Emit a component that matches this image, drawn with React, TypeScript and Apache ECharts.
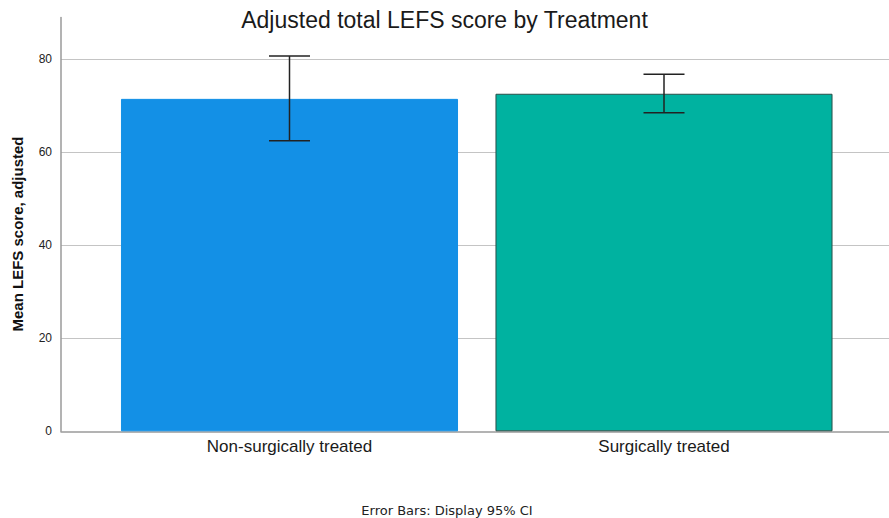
import React, { useEffect, useRef } from "react";
import * as echarts from "echarts";

const categories = ["Non-surgically treated", "Surgically treated"];
const means = [71.5, 72.6];
const ciLower = [62.5, 68.5];
const ciUpper = [80.7, 76.8];
const barColors = ["#1390E6", "#00B2A0"];
const barBorders = ["#1390E6", "#2a4f48"];
const yTicks = [0, 20, 40, 60, 80];

export default function App() {
  const ref = useRef<HTMLDivElement>(null);
  useEffect(() => {
    if (!ref.current) return;
    const chart = echarts.init(ref.current, undefined, { renderer: "svg" });
    const top = 17.5;
    const bottom = 86.7;
    const yMax = 89;
    chart.setOption({
      animation: false,
      backgroundColor: "#ffffff",
      title: {
        text: "Adjusted total LEFS score by Treatment",
        left: "center",
        top: 3,
        textStyle: {
          fontFamily: "Liberation Sans, Arial, sans-serif",
          fontSize: 23,
          fontWeight: "normal",
          color: "#1a1a1a",
        },
      },
      graphic: [
        {
          type: "text",
          x: 17,
          y: 234,
          rotation: Math.PI / 2,
          style: {
            text: "Mean LEFS score, adjusted",
            fontFamily: "Liberation Sans, Arial, sans-serif",
            fontSize: 15,
            fontWeight: "bold",
            fill: "#111",
            align: "center",
            verticalAlign: "middle",
          },
        },
        {
          type: "text",
          x: 447,
          y: 510,
          style: {
            text: "Error Bars: Display 95% CI",
            fontFamily: "DejaVu Sans, sans-serif",
            fontSize: 13,
            fill: "#222",
            align: "center",
            verticalAlign: "middle",
          },
        },
      ],
      grid: [
        { left: 61, right: 0, top, bottom },
        { left: 102.25, right: 37.75, top, bottom },
      ],
      xAxis: [
        {
          gridIndex: 0,
          type: "value",
          min: 0,
          max: 1,
          axisLine: { show: true, lineStyle: { color: "#9a9a9a", width: 1.5 } },
          axisTick: { show: false },
          axisLabel: { show: false },
          splitLine: { show: false },
        },
        {
          gridIndex: 1,
          type: "category",
          data: categories,
          axisLine: { show: false },
          axisTick: { show: false },
          axisLabel: {
            margin: 7,
            fontFamily: "Liberation Sans, Arial, sans-serif",
            fontSize: 17,
            color: "#1a1a1a",
          },
        },
      ],
      yAxis: [
        {
          gridIndex: 0,
          type: "value",
          min: yTicks[0],
          max: yMax,
          interval: yTicks[1] - yTicks[0],
          axisLine: { show: true, lineStyle: { color: "#9a9a9a", width: 1.5 } },
          axisTick: { show: false },
          axisLabel: {
            showMaxLabel: false,
            margin: 9,
            fontFamily: "Liberation Sans, Arial, sans-serif",
            fontSize: 12,
            color: "#222",
          },
          splitLine: {
            show: true,
            showMinLine: false,
            showMaxLine: false,
            lineStyle: { color: "#c4c4c4", width: 1.2 },
          },
        },
        {
          gridIndex: 1,
          type: "value",
          min: 0,
          max: yMax,
          show: false,
          splitLine: { show: false },
        },
      ],
      series: [
        {
          type: "bar",
          xAxisIndex: 1,
          yAxisIndex: 1,
          barWidth: "90%",
          data: means.map((v, i) => ({
            value: v,
            itemStyle: {
              color: barColors[i],
              borderColor: barBorders[i],
              borderWidth: 1,
            },
          })),
          z: 2,
        },
        {
          type: "custom",
          xAxisIndex: 1,
          yAxisIndex: 1,
          clip: false,
          z: 3,
          data: categories.map((_, i) => [i, ciLower[i], ciUpper[i]]),
          renderItem: (params: any, api: any) => {
            const x = api.value(0);
            const lo = api.coord([x, api.value(1)]);
            const hi = api.coord([x, api.value(2)]);
            const half = 20.5;
            const style = { stroke: "#222", lineWidth: 1.5 };
            return {
              type: "group",
              children: [
                { type: "line", shape: { x1: lo[0], y1: lo[1], x2: hi[0], y2: hi[1] }, style },
                { type: "line", shape: { x1: hi[0] - half, y1: hi[1], x2: hi[0] + half, y2: hi[1] }, style },
                { type: "line", shape: { x1: lo[0] - half, y1: lo[1], x2: lo[0] + half, y2: lo[1] }, style },
              ],
            };
          },
        },
      ],
    });
    return () => chart.dispose();
  }, []);
  return <div ref={ref} style={{ width: 889, height: 518, position: "absolute", left: 0, top: 0 }} />;
}
